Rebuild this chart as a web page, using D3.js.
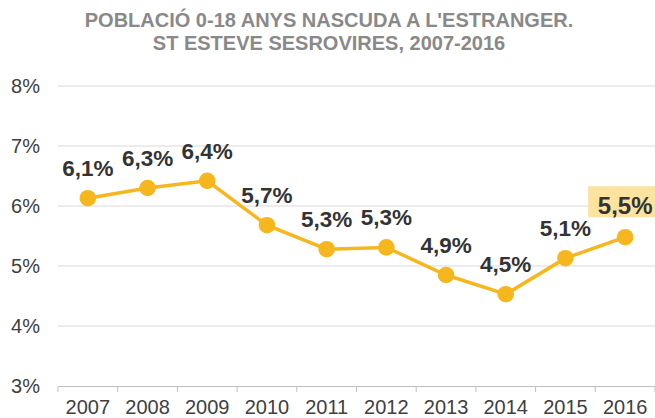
<!DOCTYPE html>
<html>
<head>
<meta charset="utf-8">
<script src="https://cdn.jsdelivr.net/npm/d3@7"></script>
<style>
  body { margin: 0; background: #fff; }
  svg { font-family: "Liberation Sans", Arial, sans-serif; }
</style>
</head>
<body>
<svg id="chart"></svg>
<script>
const width = 655
const height = 418
const years = ['2007', '2008', '2009', '2010', '2011', '2012', '2013', '2014', '2015', '2016']
const values = [6.13, 6.30, 6.42, 5.68, 5.28, 5.31, 4.85, 4.53, 5.13, 5.48]
const valueLabels = ['6,1%', '6,3%', '6,4%', '5,7%', '5,3%', '5,3%', '4,9%', '4,5%', '5,1%', '5,5%']
const yTicks = [3, 4, 5, 6, 7, 8]
const titleLines = ["POBLACIÓ 0-18 ANYS NASCUDA A L'ESTRANGER.", 'ST ESTEVE SESROVIRES, 2007-2016']

const margin = {top: 86, right: 0, bottom: 32, left: 58}

const svg = d3.select('#chart')
  .attr('width', width)
  .attr('height', height)

const x = d3.scaleBand()
  .domain(years)
  .range([margin.left, width - margin.right])

const y = d3.scaleLinear()
  .domain([3, 8])
  .range([height - margin.bottom, margin.top])

// title
svg.selectAll('.title')
  .data(titleLines)
  .join('text')
  .classed('title', true)
  .attr('x', 329)
  .attr('y', (d, i) => 27 + i * 23)
  .attr('text-anchor', 'middle')
  .attr('fill', '#898989')
  .style('font-size', '20px')
  .style('font-weight', 'bold')
  .text(d => d)

// gridlines
svg.selectAll('.grid')
  .data(yTicks.filter(d => d > 3))
  .join('line')
  .classed('grid', true)
  .attr('x1', margin.left)
  .attr('x2', width - margin.right)
  .attr('y1', d => y(d))
  .attr('y2', d => y(d))
  .attr('stroke', '#d9d9d9')
  .attr('stroke-width', 1)

// y labels
svg.selectAll('.ylab')
  .data(yTicks)
  .join('text')
  .classed('ylab', true)
  .attr('x', 40)
  .attr('y', d => y(d) + 7)
  .attr('text-anchor', 'end')
  .attr('fill', '#404040')
  .style('font-size', '20px')
  .text(d => d + '%')

// x axis
const xAxis = svg.append('g')
  .attr('transform', `translate(0,${y(3)})`)
  .call(d3.axisBottom(x).tickSize(0).tickPadding(14))
xAxis.select('.domain').attr('stroke', '#bfbfbf')
xAxis.selectAll('text')
  .attr('fill', '#404040')
  .style('font-size', '20px')
  .style('font-family', '"Liberation Sans", Arial, sans-serif')

// tick marks between categories
const bounds = years.map(d => x(d)).concat([x(years[years.length - 1]) + x.bandwidth()])
svg.selectAll('.xtick')
  .data(bounds)
  .join('line')
  .classed('xtick', true)
  .attr('x1', d => d)
  .attr('x2', d => d)
  .attr('y1', y(3))
  .attr('y2', y(3) + 6)
  .attr('stroke', '#bfbfbf')

const cx = d => x(d) + x.bandwidth() / 2

// line
const line = d3.line()
  .x((d, i) => cx(years[i]))
  .y(d => y(d))

svg.append('path')
  .datum(values)
  .attr('d', line)
  .attr('fill', 'none')
  .attr('stroke', '#f6b61e')
  .attr('stroke-width', 3.5)

svg.selectAll('.dot')
  .data(values)
  .join('circle')
  .classed('dot', true)
  .attr('cx', (d, i) => cx(years[i]))
  .attr('cy', d => y(d))
  .attr('r', 8.3)
  .attr('fill', '#f6b61e')

// highlight box for last label
const last = values.length - 1
svg.append('rect')
  .attr('x', cx(years[last]) - 37)
  .attr('y', y(values[last]) - 51)
  .attr('width', 80)
  .attr('height', 31)
  .attr('fill', '#fce3a0')

// data labels
svg.selectAll('.vlab')
  .data(values)
  .join('text')
  .classed('vlab', true)
  .attr('x', (d, i) => cx(years[i]))
  .attr('y', (d, i) => y(d) - (i === last ? 23 : 22))
  .attr('text-anchor', 'middle')
  .attr('fill', '#333333')
  .style('font-size', (d, i) => i === last ? '24px' : '22.5px')
  .style('font-weight', 'bold')
  .text((d, i) => valueLabels[i])
</script>
</body>
</html>
